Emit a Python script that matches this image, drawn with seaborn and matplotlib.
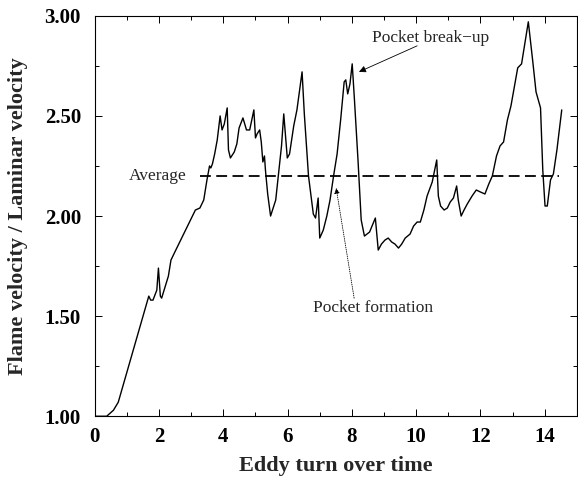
import matplotlib

matplotlib.use("Agg")
import matplotlib.pyplot as plt
import pandas as pd
import seaborn as sns
from matplotlib.ticker import MultipleLocator

# Flame speed history (time in eddy turn-overs).
eddy_time = [
    0.00, 0.37, 0.58, 0.73, 1.68, 1.74, 1.81, 1.93, 1.98, 2.04,
    2.08, 2.29, 2.37, 2.49, 2.98, 3.13, 3.27, 3.39, 3.49, 3.57,
    3.61, 3.66, 3.73, 3.81, 3.90, 3.96, 4.03, 4.12, 4.16, 4.22,
    4.34, 4.42, 4.49, 4.61, 4.72, 4.82, 4.95, 5.00, 5.05, 5.13,
    5.18, 5.23, 5.28, 5.31, 5.38, 5.47, 5.63, 5.73, 5.81, 5.88,
    5.99, 6.06, 6.19, 6.29, 6.45, 6.52, 6.65, 6.80, 6.87, 6.95,
    7.00, 7.11, 7.22, 7.32, 7.43, 7.54, 7.65, 7.76, 7.81, 7.87,
    7.94, 8.01, 8.08, 8.19, 8.29, 8.39, 8.55, 8.73, 8.82, 8.92,
    9.03, 9.13, 9.24, 9.34, 9.45, 9.55, 9.66, 9.81, 9.92, 10.03,
    10.13, 10.24, 10.34, 10.50, 10.64, 10.69, 10.76, 10.87, 10.97, 11.06,
    11.16, 11.26, 11.31, 11.40, 11.49, 11.59, 11.74, 11.87, 12.00, 12.14,
    12.26, 12.37, 12.50, 12.61, 12.72, 12.84, 12.95, 13.16, 13.28, 13.49,
    13.63, 13.73, 13.87, 13.94, 14.01, 14.08, 14.18, 14.27, 14.38, 14.53,
]
velocity_ratio = [
    1.00, 1.00, 1.03, 1.07, 1.60, 1.58, 1.58, 1.63, 1.74, 1.60,
    1.59, 1.70, 1.78, 1.82, 1.98, 2.03, 2.04, 2.08, 2.18, 2.25,
    2.24, 2.26, 2.31, 2.38, 2.50, 2.43, 2.46, 2.54, 2.33, 2.29,
    2.32, 2.36, 2.44, 2.49, 2.43, 2.43, 2.53, 2.39, 2.41, 2.43,
    2.37, 2.27, 2.30, 2.23, 2.11, 2.00, 2.08, 2.23, 2.35, 2.51,
    2.29, 2.31, 2.45, 2.53, 2.72, 2.51, 2.20, 2.01, 1.99, 2.09,
    1.89, 1.93, 2.00, 2.08, 2.20, 2.31, 2.48, 2.67, 2.68, 2.61,
    2.66, 2.76, 2.58, 2.28, 1.98, 1.90, 1.92, 1.99, 1.83, 1.86,
    1.88, 1.89, 1.87, 1.86, 1.84, 1.86, 1.89, 1.91, 1.95, 1.97,
    1.97, 2.03, 2.10, 2.17, 2.28, 2.10, 2.05, 2.03, 2.04, 2.07,
    2.09, 2.15, 2.08, 2.00, 2.03, 2.06, 2.10, 2.13, 2.12, 2.11,
    2.16, 2.20, 2.30, 2.35, 2.37, 2.48, 2.55, 2.74, 2.76, 2.97,
    2.77, 2.62, 2.54, 2.23, 2.05, 2.05, 2.18, 2.21, 2.33, 2.53,
]

average_value = 2.20
average_span = [3.27, 14.46]

x_ticks = [0, 2, 4, 6, 8, 10, 12, 14]
y_ticks = [1.00, 1.50, 2.00, 2.50, 3.00]

df = pd.DataFrame({"t": eddy_time, "v": velocity_ratio})

sns.set_style("ticks")
plt.rcParams["font.family"] = ["Liberation Serif", "DejaVu Serif"]

fig = plt.figure(figsize=(5.78, 4.79), dpi=100)
ax = fig.add_axes([0.164, 0.131, 0.834, 0.836])

sns.lineplot(data=df, x="t", y="v", color="black", linewidth=1.0, ax=ax)
ax.plot(average_span, [average_value, average_value], color="black",
        linewidth=1.3, dashes=(6, 3))

ax.set_xlim(0, 15)
ax.set_ylim(1.0, 3.0)
ax.set_xticks(x_ticks)
ax.set_yticks(y_ticks)
ax.set_yticklabels([f"{v:.2f}" for v in y_ticks])
ax.xaxis.set_minor_locator(MultipleLocator(1))
ax.yaxis.set_minor_locator(MultipleLocator(0.25))
ax.tick_params(which="both", direction="in", top=True, right=True,
               width=0.7, colors="black")
ax.tick_params(which="major", length=5)
ax.tick_params(which="minor", length=3)
ax.tick_params(axis="x", which="major", pad=8, labelsize=15)
ax.tick_params(axis="y", which="major", pad=10, labelsize=15)
for lab in ax.get_xticklabels() + ax.get_yticklabels():
    lab.set_fontweight("bold")
for sp in ax.spines.values():
    sp.set_visible(True)
    sp.set_linewidth(0.8)
    sp.set_color("black")

ax.set_xlabel("Eddy turn over time", fontsize=16, fontweight="bold", labelpad=6)
ax.set_ylabel("Flame velocity / Laminar velocity", fontsize=16,
              fontweight="bold", labelpad=12)

ax.text(2.85, 2.20, "Average", fontsize=12.5, ha="right", va="center")
ax.text(10.44, 2.89, "Pocket break\u2212up", fontsize=12.5, ha="center",
        va="center")
ax.annotate("", xy=(8.22, 2.72), xytext=(10.03, 2.85),
            arrowprops=dict(arrowstyle="-|>", color="black", lw=0.6,
                            mutation_scale=10, shrinkA=0, shrinkB=0))
ax.text(8.67, 1.54, "Pocket formation", fontsize=12.5, ha="center",
        va="center")
ax.annotate("", xy=(7.51, 2.14), xytext=(8.07, 1.59),
            arrowprops=dict(arrowstyle="-|>", color="black", lw=0.6,
                            linestyle=":", mutation_scale=8,
                            shrinkA=0, shrinkB=0))

fig.savefig("out.png", dpi=100)
plt.close(fig)
